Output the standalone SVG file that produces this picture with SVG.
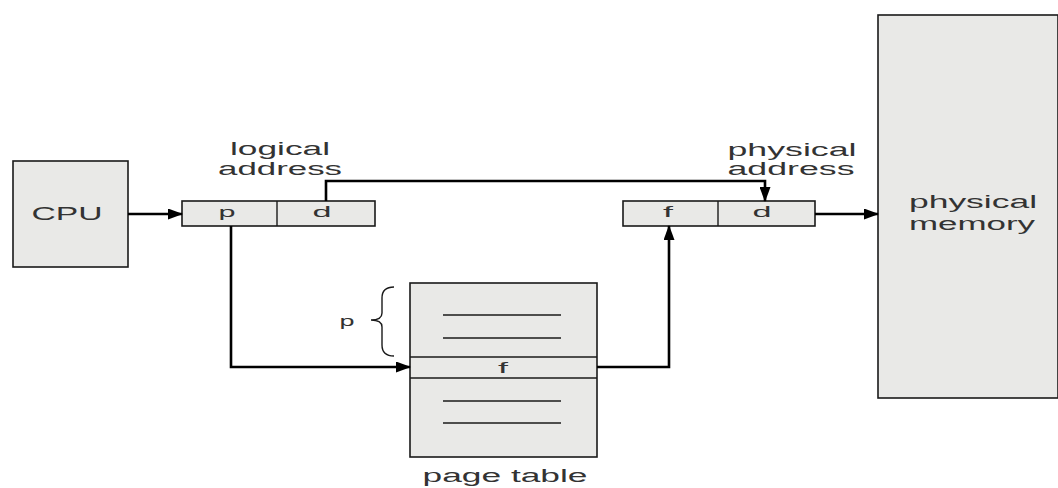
<svg xmlns="http://www.w3.org/2000/svg" width="1058" height="488" viewBox="0 0 1058 488">
<style>
.box{fill:#e9e9e7;stroke:#1a1a1a;stroke-width:1.6}
.ln{fill:none;stroke:#1a1a1a;stroke-width:1.4}
.t{font-family:"Liberation Sans",Arial,sans-serif;font-size:18px;fill:#333;text-anchor:middle}
.s{font-family:"Liberation Sans",Arial,sans-serif;font-size:14px;fill:#333;text-anchor:middle}
.c{fill:none;stroke:#000;stroke-width:2.6}
</style>
<defs>
<marker id="ah" viewBox="0 0 15 11" refX="14" refY="5.5" markerWidth="15" markerHeight="11" markerUnits="userSpaceOnUse" orient="auto">
<path d="M0,0 L15,5.5 L0,11 Z" fill="#000"/>
</marker>
</defs>
<rect width="1058" height="488" fill="#fff"/>
<g id="cpu">
<rect class="box" x="13" y="161" width="115" height="106"/>
<text class="t" x="67" y="220" textLength="71" lengthAdjust="spacingAndGlyphs">CPU</text>
</g>
<g id="logical-address">
<rect class="box" x="182" y="201" width="193" height="25"/>
<line class="ln" x1="277" y1="201" x2="277" y2="226"/>
<text class="s" x="227" y="217" textLength="17" lengthAdjust="spacingAndGlyphs">p</text>
<text class="s" x="322" y="217" textLength="19" lengthAdjust="spacingAndGlyphs">d</text>
<text class="t" x="280" y="155" textLength="100" lengthAdjust="spacingAndGlyphs">logical</text>
<text class="t" x="280" y="175" textLength="124" lengthAdjust="spacingAndGlyphs">address</text>
</g>
<g id="physical-address">
<rect class="box" x="623" y="201" width="192" height="25"/>
<line class="ln" x1="718" y1="201" x2="718" y2="226"/>
<text class="s" x="668" y="217" textLength="10" lengthAdjust="spacingAndGlyphs">f</text>
<text class="s" x="762" y="217" textLength="19" lengthAdjust="spacingAndGlyphs">d</text>
<text class="t" x="792" y="156" textLength="129" lengthAdjust="spacingAndGlyphs">physical</text>
<text class="t" x="791" y="175" textLength="127" lengthAdjust="spacingAndGlyphs">address</text>
</g>
<g id="physical-memory">
<rect class="box" x="878" y="15" width="180" height="383"/>
<text class="t" x="973" y="208" textLength="128" lengthAdjust="spacingAndGlyphs">physical</text>
<text class="t" x="972" y="230" textLength="126" lengthAdjust="spacingAndGlyphs">memory</text>
</g>
<g id="page-table">
<rect class="box" x="410" y="283" width="187" height="174"/>
<line class="ln" x1="410" y1="357" x2="597" y2="357"/>
<line class="ln" x1="410" y1="378" x2="597" y2="378"/>
<line class="ln" x1="443" y1="315" x2="561" y2="315"/>
<line class="ln" x1="443" y1="338" x2="561" y2="338"/>
<line class="ln" x1="443" y1="401" x2="561" y2="401"/>
<line class="ln" x1="443" y1="423" x2="561" y2="423"/>
<text class="s" x="503" y="373" textLength="10" lengthAdjust="spacingAndGlyphs">f</text>
<text class="t" x="505" y="482" textLength="165" lengthAdjust="spacingAndGlyphs">page table</text>
<path class="ln" d="M394,287 Q382,287 382,298 L382,313 Q382,320 371,320 Q382,320 382,327 L382,345 Q382,356 394,356" stroke-width="1.3"/>
<text class="s" x="347" y="326" textLength="15" lengthAdjust="spacingAndGlyphs">p</text>
</g>
<g id="connectors">
<line class="c" x1="128" y1="214" x2="182" y2="214" marker-end="url(#ah)"/>
<polyline class="c" points="326,201 326,181 765,181 765,201" marker-end="url(#ah)"/>
<line class="c" x1="815" y1="214" x2="878" y2="214" marker-end="url(#ah)"/>
<polyline class="c" points="231,226 231,367 410,367" marker-end="url(#ah)"/>
<polyline class="c" points="597,367 669,367 669,226" marker-end="url(#ah)"/>
</g>
</svg>
